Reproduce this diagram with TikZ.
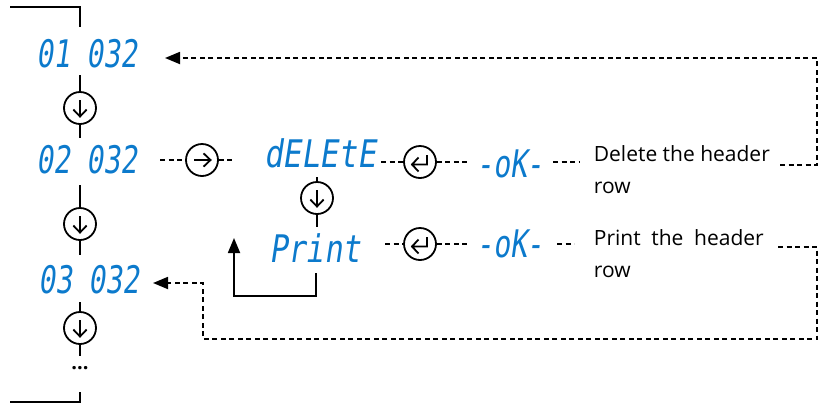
\documentclass[tikz,border=0pt]{standalone}
\usepackage{fontspec}
\setmainfont{Open Sans}
\newfontfamily\segfont[FakeStretch=0.74,FakeSlant=0.14]{DejaVu Sans Mono}
\usetikzlibrary{arrows.meta}
\definecolor{segblue}{RGB}{12,122,204}
\begin{document}
\begin{tikzpicture}[x=1pt,y=-1pt,line width=1.8pt,
  seg/.style={font=\segfont\fontsize{38}{38}\selectfont,text=segblue,inner sep=0pt,anchor=center},
  btn/.style={circle,draw,minimum size=32pt,inner sep=0pt},
  dsh/.style={dash pattern=on 5pt off 3.5pt},
  lbl/.style={font=\fontsize{21}{32}\selectfont,align=left,anchor=base west,inner sep=0pt},
  tip/.style={-{Triangle[length=15pt,width=12pt]}},
  downarr/.pic={\draw (0,-8) -- (0,8.5) (-6.7,1.5) -- (0,8.5) -- (6.7,1.5);},
  rightarr/.pic={\draw (-8,0) -- (8.5,0) (1.5,-6.7) -- (8.5,0) -- (1.5,6.7);},
  retarr/.pic={\draw (7,-7) -- (7,2.5) -- (-8,2.5) (-1.5,-4.5) -- (-8,2.5) -- (-1.5,9.5);}]
\useasboundingbox (0,0) rectangle (829,405);

% left column
\node[seg] (r1) at (87,54) {01 032};
\node[seg] (r2) at (87,160) {02 032};
\node[seg] (r3) at (89,280) {03 032};
\node[btn] (c1) at (80,108) {};
\node[btn] (c2) at (80,224) {};
\node[btn] (c3) at (80,328) {};
\pic at (c1) {downarr};
\pic at (c2) {downarr};
\pic at (c3) {downarr};
\node[inner sep=0pt,font=\bfseries\fontsize{20}{20}\selectfont] (dots) at (80,368) {...};

\coordinate (tb) at (80,27);
\coordinate (bb) at (80,392);
\draw (10,7) -| (tb);
\draw (bb) -- (80,402) -- (10,402);
\draw (80,75) -- (c1.north);
\draw (c1.south) -- (80,138);
\draw (80,185) -- (c2.north);
\draw (c2.south) -- (80,255);
\draw (80,302) -- (c3.north);
\draw (c3.south) -- (80,356);

% middle
\node[btn] (cr) at (202,160) {};
\pic at (cr) {rightarr};
\draw[dsh] (160,160) -- (cr.west);
\draw[dsh] (cr.east) -- (235,160);

\node[seg,xscale=1.1] (del) at (320,153) {dELEtE};
\node[btn] (cd) at (317,198) {};
\pic at (cd) {downarr};
\draw (317,177) -- (cd.north);
\draw (cd.south) -- (317,227);
\node[seg,xscale=1.08] (prt) at (315,248) {Print};

\coordinate (pb) at (316,273);
\coordinate (pa) at (234,238);
\draw[tip] (pb) -- (316,296) -| (pa);

% return buttons and ok
\node[btn] (e1) at (420,162) {};
\node[btn] (e2) at (420,244) {};
\pic at (e1) {retarr};
\pic at (e2) {retarr};
\draw[dsh] (381,162) -- (e1.west);
\draw[dsh] (385,244) -- (e2.west);
\draw[dsh] (e1.east) -- (468,162);
\draw[dsh] (e2.east) -- (467,244);

\node[seg] (ok1) at (510,164) {-oK-};
\node[seg] (ok2) at (510,244) {-oK-};
\draw[dsh] (553,162) -- (580,162);
\draw[dsh] (557,244) -- (574,244);

\node[lbl] (t1) at (593,193) {Delete the header\\row};
\node[lbl] (t2) at (593,277) {Print\hspace{0.25em} the\hspace{0.25em} header\\row};

% return loops
\coordinate (a1) at (165,58);
\coordinate (a3) at (153,283);
\draw[dsh,tip] (780,165) -- (817,165) -- (817,58) -- (a1);
\draw[dsh,tip] (778,247) -- (817,247) -- (817,339) -- (203,339) -- (203,283) -- (a3);
\end{tikzpicture}
\end{document}
